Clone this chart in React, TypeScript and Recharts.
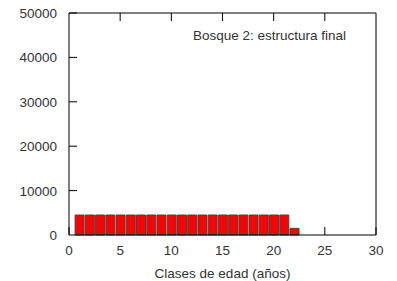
import React from 'react';
import { BarChart, Bar, XAxis, YAxis } from 'recharts';

// clases de edad (años) y número de árboles por clase
const clases = [1, 2, 3, 4, 5, 6, 7, 8, 9, 10, 11, 12, 13, 14, 15, 16, 17, 18, 19, 20, 21, 22];
const arboles = [4500, 4500, 4500, 4500, 4500, 4500, 4500, 4500, 4500, 4500, 4500, 4500, 4500, 4500, 4500, 4500, 4500, 4500, 4500, 4500, 4500, 1500];
const xTicks = [0, 5, 10, 15, 20, 25, 30];
const yTicks = [0, 10000, 20000, 30000, 40000, 50000];

const data = clases.map((c, i) => ({ clase: c, n: arboles[i] }));

const FONT = 'Liberation Sans, Arial, sans-serif';
const FS = 13.5;
const TICK = 8;

// gnuplot style: ticks point inward, labels outside
const BottomTick = (props: any) => {
  const { x, y, payload } = props;
  // inner ticks under the bars are hidden in the original (bars drawn on top)
  const covered = payload.value > 0 && payload.value < 22;
  return (
    <g>
      {!covered && <line x1={x} y1={y} x2={x} y2={y - TICK} stroke="#000" />}
      <text x={x} y={y + 20} textAnchor="middle" fontSize={FS} fill="#333" fontFamily={FONT}>
        {payload.value}
      </text>
    </g>
  );
};

const TopTick = (props: any) => {
  const { x, y } = props;
  return <line x1={x} y1={y} x2={x} y2={y + TICK} stroke="#000" />;
};

const LeftTick = (props: any) => {
  const { x, y, payload } = props;
  return (
    <g>
      {payload.value > 0 && <line x1={x} y1={y} x2={x + TICK} y2={y} stroke="#000" />}
      <text x={x - 12} y={y + 5} textAnchor="end" fontSize={FS} fill="#333" fontFamily={FONT}>
        {payload.value}
      </text>
    </g>
  );
};

const RightTick = (props: any) => {
  const { x, y } = props;
  return <line x1={x} y1={y} x2={x - TICK} y2={y} stroke="#000" />;
};

export default function App() {
  return (
    <div style={{ position: 'absolute', left: 0, top: 0, width: 397, height: 281, background: '#fff' }}>
      <BarChart
        width={397}
        height={281}
        data={data}
        margin={{ top: 12, right: 20, left: 0, bottom: 0 }}
      >
        <XAxis
          dataKey="clase"
          type="number"
          domain={[0, 30]}
          ticks={xTicks}
          interval={0}
          height={46}
          tickSize={0}
          tickMargin={0}
          tickLine={false}
          axisLine={{ stroke: '#000' }}
          tick={<BottomTick />}
          label={{ value: 'Clases de edad (años)', position: 'insideBottom', offset: 3, fontSize: FS, fill: '#333', fontFamily: FONT }}
        />
        <XAxis
          xAxisId="top"
          orientation="top"
          dataKey="clase"
          type="number"
          domain={[0, 30]}
          ticks={xTicks.slice(1, -1)}
          interval={0}
          height={1}
          tickSize={0}
          tickMargin={0}
          tickLine={false}
          axisLine={{ stroke: '#000' }}
          tick={<TopTick />}
        />
        <YAxis
          domain={[0, 50000]}
          ticks={yTicks}
          interval={0}
          width={69}
          tickSize={0}
          tickMargin={0}
          tickLine={false}
          axisLine={{ stroke: '#000' }}
          tick={<LeftTick />}
        />
        <YAxis
          yAxisId="right"
          orientation="right"
          domain={[0, 50000]}
          ticks={yTicks.slice(1, -1)}
          interval={0}
          width={1}
          tickSize={0}
          tickMargin={0}
          tickLine={false}
          axisLine={{ stroke: '#000' }}
          tick={<RightTick />}
        />
        <Bar dataKey="n" fill="#ff0000" stroke="#444" strokeWidth={1} barSize={9} isAnimationActive={false} />
      </BarChart>
      <div
        style={{
          position: 'absolute',
          left: 193,
          top: 28,
          fontSize: FS,
          color: '#333',
          fontFamily: FONT,
          whiteSpace: 'nowrap',
        }}
      >
        Bosque 2: estructura final
      </div>
    </div>
  );
}
